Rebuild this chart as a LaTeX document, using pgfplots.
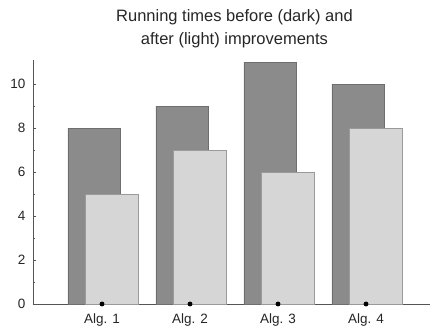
\documentclass[border=0pt]{standalone}
\usepackage{pgfplots}
\pgfplotsset{compat=1.18}
\usepackage{fontspec}
\setmainfont{Liberation Sans}

\definecolor{darkbar}{HTML}{8B8B8B}
\definecolor{darkedge}{HTML}{6E6E6E}
\definecolor{lightbar}{HTML}{D6D6D6}
\definecolor{lightedge}{HTML}{9A9A9A}
\definecolor{axisgray}{HTML}{555555}

\begin{document}
\begin{tikzpicture}
\path[use as bounding box] (-33pt,-25pt) rectangle (400pt,304pt);
\begin{axis}[
    scale only axis,
    width=397pt, height=244pt,
    at={(0,0)}, anchor=south west,
    xmin=-0.784, xmax=3.727,
    ymin=0, ymax=11.1,
    axis x line=bottom, axis y line=left,
    axis line style={axisgray, -},
    xtick={0,1,2,3},
    xticklabels={Alg. 1, Alg. 2, Alg. 3, Alg. 4},
    major x tick style={draw=none},
    ytick={0,2,4,6,8,10},
    minor y tick num=1,
    tick align=inside,
    major tick length=3pt, minor tick length=2pt,
    tick style={axisgray},
    /pgf/number format/assume math mode=true,
    tick label style={font=\fontsize{13.5}{15}\selectfont, text=black!85},
    yticklabel style={xshift=-4pt},
    xticklabel style={yshift=-3pt},
    title={Running times before (dark) and\\after (light) improvements},
    title style={font=\fontsize{16.5}{23}\selectfont, text=black!85, align=center,
        at={(0.5,1)}, anchor=south, yshift=3pt, xshift=3pt},
    ybar, bar width=0.6,
    clip=false,
]
\addplot[fill=darkbar, draw=darkedge, bar shift=-0.088] coordinates {
    (0,8) (1,9) (2,11) (3,10)
};
\addplot[fill=lightbar, draw=lightedge, bar shift=0.114] coordinates {
    (0,5) (1,7) (2,6) (3,8)
};
\addplot[only marks, mark=*, mark size=2.2pt, black] coordinates {
    (0,0) (1,0) (2,0) (3,0)
};
\end{axis}
\end{tikzpicture}
\end{document}
